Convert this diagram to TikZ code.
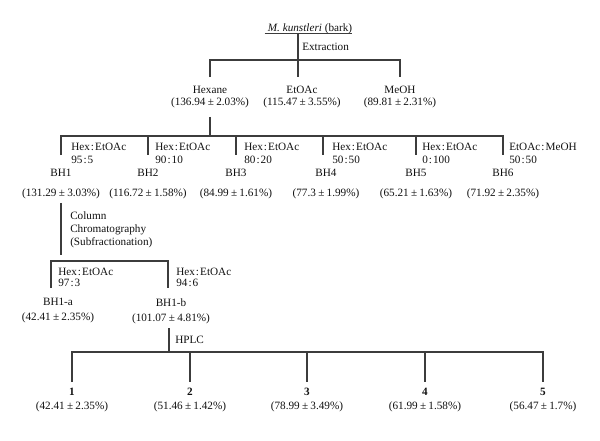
\documentclass[tikz,border=0pt]{standalone}
\usepackage{fontspec}
\setmainfont{Liberation Serif}
\usepackage{xcolor}
\definecolor{linkGray}{HTML}{3C3C3C}
\definecolor{textInk}{HTML}{111111}
\usetikzlibrary{positioning}
\newcommand{\solv}[2]{#1\kern0.8pt:\kern0.8pt#2}
\newcommand{\yield}[2]{(#1\kern1.7pt±\kern1.7pt#2\%)}

\begin{document}
\begin{tikzpicture}[
  x=0.75pt, y=-0.75pt,
  every node/.style = {inner sep=0pt, text=textInk,
                       font=\fontsize{8.4}{9.75}\selectfont},
  fraction/.style = {align=center, anchor=north},
  ratio/.style = {align=left, anchor=north west},
  note/.style = {anchor=west},
  link/.style = {draw=linkGray, line width=0.9pt},
]
\useasboundingbox (0,0) rectangle (600,440);

% Plant material
\node[anchor=base] (bark) at (310,31) {\textit{M. kunstleri} (bark)};
\draw[link] ([xshift=-2.25pt]bark.south west) -- (bark.south east);
\coordinate (split0) at (298,60);
\draw[link] (bark.south -| split0) -- (split0);
\node[note] (extraction) at (302,47) {Extraction};

% Crude extracts
\node[fraction] (hexane) at (210,86) {Hexane\\[-0.75pt]\yield{136.94}{2.03}};
\node[fraction] (etoac)  at (302,86) {EtOAc\\[-0.75pt]\yield{115.47}{3.55}};
\node[fraction] (meoh)   at (400,86) {MeOH\\[-0.75pt]\yield{89.81}{2.31}};

\draw[link, shorten <=6.75pt, shorten >=6.75pt] (hexane.north) |- (split0) -| (meoh.north);
\draw[link, shorten >=6.75pt] (split0) -- (split0 |- etoac.north);

% Hexane fractions
\coordinate (split1) at (210,136);
\draw[link, shorten <=6.4pt] (hexane.south) -- (split1);

\node[fraction] (bh1) at (61,169)  {BH1\\[5.25pt]\yield{131.29}{3.03}};
\node[fraction] (bh2) at (148,169) {BH2\\[5.25pt]\yield{116.72}{1.58}};
\node[fraction] (bh3) at (236,169) {BH3\\[5.25pt]\yield{84.99}{1.61}};
\node[fraction] (bh4) at (326,169) {BH4\\[5.25pt]\yield{77.3}{1.99}};
\node[fraction] (bh5) at (416,169) {BH5\\[5.25pt]\yield{65.21}{1.63}};
\node[fraction] (bh6) at (503,169) {BH6\\[5.25pt]\yield{71.92}{2.35}};

\draw[link, shorten <=10.5pt, shorten >=10.5pt] (bh1.north) |- (split1) -| (bh6.north);
\draw[link, shorten >=10.5pt] (split1 -| bh2.north) -- (bh2.north);
\draw[link, shorten >=10.5pt] (split1 -| bh3.north) -- (bh3.north);
\draw[link, shorten >=10.5pt] ([xshift=-2.25pt]split1 -| bh4.north) -- ([xshift=-2.25pt]bh4.north);
\draw[link, shorten >=10.5pt] (split1 -| bh5.north) -- (bh5.north);

\node[ratio] (ratio1) at (71,143)  {\solv{Hex}{EtOAc}\\\solv{95}{5}};
\node[ratio] (ratio2) at (155,143) {\solv{Hex}{EtOAc}\\\solv{90}{10}};
\node[ratio] (ratio3) at (244,143) {\solv{Hex}{EtOAc}\\\solv{80}{20}};
\node[ratio] (ratio4) at (332,143) {\solv{Hex}{EtOAc}\\\solv{50}{50}};
\node[ratio] (ratio5) at (422,143) {\solv{Hex}{EtOAc}\\\solv{0}{100}};
\node[ratio] (ratio6) at (509,143) {\solv{EtOAc}{MeOH}\\\solv{50}{50}};

% Subfractionation of BH1
\node[ratio] (column) at (70,211) {Column\\Chromatography\\(Subfractionation)};
\coordinate (split2) at (61,261);
\draw[link, shorten <=2.7pt, shorten >=4.5pt] (bh1.south) -- (split2);

\node[fraction] (bh1a) at (58,298)  {BH1-a\\[1.5pt]\yield{42.41}{2.35}};
\node[fraction] (bh1b) at (171,298) {BH1-b\\[1.5pt]\yield{101.07}{4.81}};
\draw[link, shorten <=7.5pt, shorten >=7.5pt]
  ([xshift=-5.25pt]bh1a.north) |- (split2) -| ([xshift=-2.25pt]bh1b.north);

\node[ratio] (ratio7) at (58,268)  {\solv{Hex}{EtOAc}\\[-1.75pt]\solv{97}{3}};
\node[ratio] (ratio8) at (176,268) {\solv{Hex}{EtOAc}\\[-1.75pt]\solv{94}{6}};

% HPLC compounds
\coordinate (split3) at (169,352);
\draw[link, shorten <=3.5pt] ([xshift=-1.5pt]bh1b.south) -- (split3);
\node[note] (hplc) at (175,340) {HPLC};

\node[fraction] (cpd1) at (72,388)  {\textbf{1}\\[0.75pt]\yield{42.41}{2.35}};
\node[fraction] (cpd2) at (190,388) {\textbf{2}\\[0.75pt]\yield{51.46}{1.42}};
\node[fraction] (cpd3) at (307,388) {\textbf{3}\\[0.75pt]\yield{78.99}{3.49}};
\node[fraction] (cpd4) at (425,388) {\textbf{4}\\[0.75pt]\yield{61.99}{1.58}};
\node[fraction] (cpd5) at (543,388) {\textbf{5}\\[0.75pt]\yield{56.47}{1.7}};

\draw[link, shorten <=4.5pt, shorten >=4.5pt] (cpd1.north) |- (split3) -| (cpd5.north);
\draw[link, shorten >=4.5pt] (split3 -| cpd2.north) -- (cpd2.north);
\draw[link, shorten >=4.5pt] (split3 -| cpd3.north) -- (cpd3.north);
\draw[link, shorten >=4.5pt] (split3 -| cpd4.north) -- (cpd4.north);

\end{tikzpicture}
\end{document}
